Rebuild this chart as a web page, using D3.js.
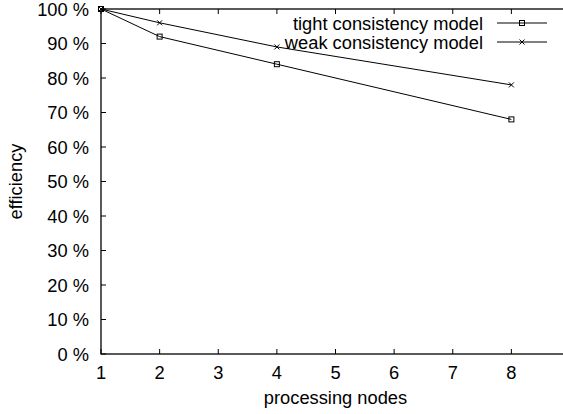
<!DOCTYPE html>
<html>
<head>
<meta charset="utf-8">
<script src="https://cdn.jsdelivr.net/npm/d3@7"></script>
<style>
  body { margin: 0; background: #fff; }
  svg text { font-family: "Liberation Sans", Arial, sans-serif; fill: #000; }
</style>
</head>
<body>
<div id="chart"></div>
<script>
// data
var nodes = [1, 2, 4, 8];
var tightEff = [100, 92, 84, 68];
var weakEff = [100, 96, 89, 78];
var seriesNames = ["tight consistency model", "weak consistency model"];
var xTicks = [1, 2, 3, 4, 5, 6, 7, 8];
var yTicks = [0, 10, 20, 30, 40, 50, 60, 70, 80, 90, 100];

(function autoexecute() {
  var W = 563, H = 414;
  var margin = {top: 9, left: 101, bottom: 60};
  var plotRight = 570; // frame is cut off by the picture edge

  var svg = d3.select("#chart")
    .append("svg")
      .attr("width", W)
      .attr("height", H);

  var x = d3.scaleLinear().domain([1, 9]).range([margin.left, plotRight]);
  var y = d3.scaleLinear().domain([0, 100]).range([H - margin.bottom, margin.top]);

  var fs = 18.3;

  // frame
  svg.append("rect")
    .attr("x", x(1)).attr("y", y(100))
    .attr("width", x(9) - x(1)).attr("height", y(0) - y(100))
    .attr("fill", "none").attr("stroke", "#000").attr("stroke-width", 1.3);

  // x axis ticks (inward, mirrored on top)
  var xg = svg.append("g");
  xg.selectAll(".tb").data(xTicks).join("line")
    .attr("x1", d => x(d)).attr("x2", d => x(d))
    .attr("y1", y(0)).attr("y2", y(0) - 5)
    .attr("stroke", "#000");
  xg.selectAll(".tt").data(xTicks).join("line")
    .attr("x1", d => x(d)).attr("x2", d => x(d))
    .attr("y1", y(100)).attr("y2", y(100) + 5)
    .attr("stroke", "#000");
  xg.selectAll("text").data(xTicks).join("text")
    .attr("x", d => x(d)).attr("y", y(0) + 25)
    .attr("text-anchor", "middle")
    .attr("font-size", fs)
    .text(d => d);

  // y axis ticks
  var yg = svg.append("g");
  yg.selectAll("line").data(yTicks).join("line")
    .attr("x1", x(1)).attr("x2", x(1) + 5)
    .attr("y1", d => y(d)).attr("y2", d => y(d))
    .attr("stroke", "#000");
  yg.selectAll("text").data(yTicks).join("text")
    .attr("x", x(1) - 12).attr("y", d => y(d))
    .attr("dy", "0.36em")
    .attr("text-anchor", "end")
    .attr("font-size", fs)
    .text(d => d + " %");

  // axis titles
  svg.append("text")
    .attr("x", (x(1) + x(9)) / 2).attr("y", 404)
    .attr("text-anchor", "middle")
    .attr("font-size", fs)
    .text("processing nodes");

  svg.append("text")
    .attr("transform", "translate(22," + ((y(0) + y(100)) / 2) + ") rotate(-90)")
    .attr("text-anchor", "middle")
    .attr("font-size", fs)
    .text("efficiency");

  var line = d3.line()
    .x((d, i) => x(nodes[i]))
    .y(d => y(d));

  var plot = svg.append("g");

  function squareMark(g, cx, cy) {
    g.append("rect")
      .attr("x", cx - 2.5).attr("y", cy - 2.5)
      .attr("width", 5).attr("height", 5)
      .attr("fill", "none").attr("stroke", "#000");
  }
  function crossMark(g, cx, cy) {
    g.append("path")
      .attr("d", "M" + (cx - 2.5) + "," + (cy - 2.5) + "L" + (cx + 2.5) + "," + (cy + 2.5) +
                 "M" + (cx - 2.5) + "," + (cy + 2.5) + "L" + (cx + 2.5) + "," + (cy - 2.5))
      .attr("stroke", "#000").attr("fill", "none");
  }

  plot.append("path").datum(tightEff)
    .attr("d", line).attr("fill", "none").attr("stroke", "#000");
  plot.append("path").datum(weakEff)
    .attr("d", line).attr("fill", "none").attr("stroke", "#000");

  tightEff.forEach((v, i) => squareMark(plot, x(nodes[i]), y(v)));
  weakEff.forEach((v, i) => crossMark(plot, x(nodes[i]), y(v)));

  // legend
  var leg = svg.append("g");
  var rows = [23, 42];
  var marks = [squareMark, crossMark];
  seriesNames.forEach(function(name, i) {
    leg.append("text")
      .attr("x", 483).attr("y", rows[i])
      .attr("dy", "0.36em")
      .attr("text-anchor", "end")
      .attr("font-size", fs)
      .text(name);
    leg.append("line")
      .attr("x1", 497).attr("x2", 547)
      .attr("y1", rows[i]).attr("y2", rows[i])
      .attr("stroke", "#000");
    marks[i](leg, 522, rows[i]);
  });
})();
</script>
</body>
</html>
